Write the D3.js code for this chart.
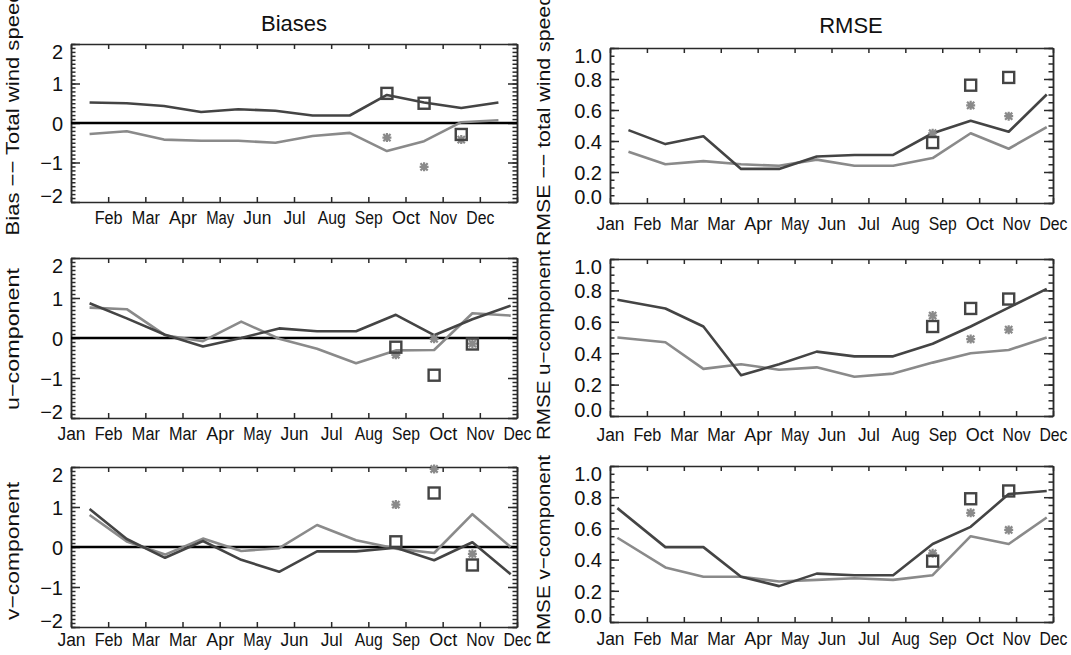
<!DOCTYPE html>
<html>
<head>
<meta charset="utf-8">
<script src="https://cdn.jsdelivr.net/npm/d3@7"></script>
<style>
  body { margin: 0; background: #fff; }
  svg text { font-family: "Liberation Sans", Arial, sans-serif; fill: #111; }
</style>
</head>
<body>
<svg width="1071" height="655"></svg>
<script>
// month tick labels (13 ticks, the original repeats "Mar")
const monthTicks = ["Jan", "Feb", "Mar", "Mar", "Apr", "May", "Jun", "Jul", "Aug", "Sep", "Oct", "Nov", "Dec"];
const monthTicksTop = ["", "Feb", "Mar", "Apr", "May", "Jun", "Jul", "Aug", "Sep", "Oct", "Nov", "Dec", ""];

// x position of each monthly value, in tick units
const xBiasTotal = [0.5, 1.5, 2.5, 3.5, 4.5, 5.5, 6.5, 7.5, 8.5, 9.5, 10.5, 11.5];
const xMonthly = [0.5, 1.5, 2.53, 3.55, 4.58, 5.6, 6.62, 7.67, 8.74, 9.77, 10.8, 11.83];
const xMonthlyRmse = [0.2, 1.5, 2.53, 3.55, 4.58, 5.6, 6.62, 7.67, 8.74, 9.77, 10.8, 11.83];
const markerIdx = [8, 9, 10]; // Sep, Oct, Nov

// Biases -- total wind speed
const biasTotalDark = [0.52, 0.50, 0.43, 0.28, 0.35, 0.31, 0.19, 0.19, 0.71, 0.52, 0.38, 0.52];
const biasTotalLight = [-0.28, -0.21, -0.42, -0.45, -0.45, -0.50, -0.33, -0.25, -0.71, -0.46, 0.02, 0.07];
const biasTotalSquares = [0.75, 0.50, -0.29];
const biasTotalStars = [-0.37, -1.11, -0.42];

// Biases -- u component
const biasUDark = [0.87, 0.49, 0.08, -0.21, 0.00, 0.24, 0.17, 0.17, 0.58, 0.07, 0.47, 0.81];
const biasULight = [0.76, 0.72, 0.07, -0.08, 0.41, -0.02, -0.27, -0.63, -0.31, -0.30, 0.62, 0.56];
const biasUSquares = [-0.23, -0.93, -0.15];
const biasUStars = [-0.42, -0.02, -0.14];

// Biases -- v component
const biasVDark = [0.95, 0.20, -0.27, 0.15, -0.32, -0.62, -0.11, -0.11, -0.02, -0.33, 0.12, -0.68];
const biasVLight = [0.80, 0.14, -0.19, 0.21, -0.10, -0.03, 0.55, 0.17, -0.04, -0.15, 0.82, 0.00];
const biasVSquares = [0.13, 1.35, -0.45];
const biasVStars = [1.06, 1.95, -0.17];

// RMSE -- total wind speed
const rmseTotalDark = [0.47, 0.38, 0.43, 0.22, 0.22, 0.30, 0.31, 0.31, 0.45, 0.53, 0.46, 0.70];
const rmseTotalLight = [0.33, 0.25, 0.27, 0.25, 0.24, 0.28, 0.24, 0.24, 0.29, 0.45, 0.35, 0.49];
const rmseTotalSquares = [0.39, 0.76, 0.81];
const rmseTotalStars = [0.45, 0.63, 0.56];

// RMSE -- u component
const rmseUDark = [0.74, 0.685, 0.57, 0.26, 0.33, 0.41, 0.38, 0.38, 0.46, 0.57, 0.69, 0.81];
const rmseULight = [0.50, 0.47, 0.30, 0.33, 0.295, 0.31, 0.25, 0.27, 0.34, 0.40, 0.42, 0.50];
const rmseUSquares = [0.57, 0.685, 0.745];
const rmseUStars = [0.64, 0.49, 0.55];

// RMSE -- v component
const rmseVDark = [0.73, 0.48, 0.48, 0.29, 0.23, 0.31, 0.30, 0.30, 0.50, 0.61, 0.82, 0.84];
const rmseVLight = [0.54, 0.35, 0.29, 0.29, 0.26, 0.27, 0.28, 0.27, 0.30, 0.55, 0.50, 0.67];
const rmseVSquares = [0.39, 0.79, 0.84];
const rmseVStars = [0.44, 0.70, 0.59];

const biasTicks = [-2, -1, 0, 1, 2];
const rmseTicks = [0, 0.2, 0.4, 0.6, 0.8, 1.0];

const DARK = "#444444";
const LIGHT = "#8a8a8a";
const AXIS = "#2a2a2a";
const DASH = "\u2212";

const svg = d3.select("svg");

const LEFT = [71, 517];
const RIGHT = [610, 1053];

const panels = [
  { xr: LEFT, top: 44, bottom: 202, xs: xBiasTotal, dark: biasTotalDark, light: biasTotalLight,
    squares: biasTotalSquares, stars: biasTotalStars, bias: true, labels: monthTicksTop, labelY: 9,
    title: `Bias  ${DASH}${DASH}  Total  wind  speed`, titleX: 19, titleY: 113, titleLen: 245 },
  { xr: LEFT, top: 258, bottom: 418, xs: xMonthly, dark: biasUDark, light: biasULight,
    squares: biasUSquares, stars: biasUStars, bias: true, labels: monthTicks, labelY: 9,
    title: `u${DASH}component`, titleX: 19, titleY: 339, titleLen: 142 },
  { xr: LEFT, top: 467, bottom: 627, xs: xMonthly, dark: biasVDark, light: biasVLight,
    squares: biasVSquares, stars: biasVStars, bias: true, labels: monthTicks, labelY: 6,
    title: `v${DASH}component`, titleX: 19, titleY: 551, titleLen: 138 },
  { xr: RIGHT, top: 48, bottom: 203, xs: xMonthly, dark: rmseTotalDark, light: rmseTotalLight,
    squares: rmseTotalSquares, stars: rmseTotalStars, bias: false, labels: monthTicks, labelY: 14,
    title: `RMSE  ${DASH}${DASH}  total  wind  speed`, titleX: 550, titleY: 120, titleLen: 252 },
  { xr: RIGHT, top: 259, bottom: 416, xs: xMonthlyRmse, dark: rmseUDark, light: rmseULight,
    squares: rmseUSquares, stars: rmseUStars, bias: false, labels: monthTicks, labelY: 12,
    title: `RMSE  u${DASH}component`, titleX: 550, titleY: 345, titleLen: 190 },
  { xr: RIGHT, top: 466, bottom: 622, xs: xMonthlyRmse, dark: rmseVDark, light: rmseVLight,
    squares: rmseVSquares, stars: rmseVStars, bias: false, labels: monthTicks, labelY: 10,
    title: `RMSE  v${DASH}component`, titleX: 550, titleY: 550, titleLen: 190 }
];

panels.forEach(drawPanel);

// column titles
svg.append("text").attr("x", 294).attr("y", 31).attr("text-anchor", "middle")
  .attr("font-size", 22).text("Biases");
svg.append("text").attr("x", 851).attr("y", 33).attr("text-anchor", "middle")
  .attr("font-size", 22).text("RMSE");

function drawPanel(p) {
  const x = d3.scaleLinear().domain([0, 12]).range(p.xr);
  const y = d3.scaleLinear()
    .domain(p.bias ? [-2, 2] : [0, 1])
    .range([p.bottom, p.top]);
  const majors = p.bias ? biasTicks : rmseTicks;
  const minors = p.bias ? d3.range(-20, 21).map((k) => k / 10) : d3.range(0, 21).map((k) => k / 20);
  const g = svg.append("g");

  const styleAxis = (sel) => {
    sel.attr("color", AXIS).attr("font-size", null).attr("font-family", null);
    sel.selectAll("path, line").attr("stroke-width", 1.5);
  };

  // x axes (ticks inward, top and bottom)
  g.append("g")
    .attr("transform", `translate(0,${p.bottom})`)
    .call(d3.axisBottom(x).tickValues(d3.range(13)).tickSizeInner(-5).tickSizeOuter(0)
      .tickPadding(p.labelY).tickFormat((i) => p.labels[i]))
    .call(styleAxis)
    .call((a) => a.selectAll("text").attr("font-size", 18).attr("fill", "#111")
      .attr("textLength", (i) => (p.labels[i] === "Jul" ? 22 : p.labels[i] ? 28 : null))
      .attr("lengthAdjust", "spacingAndGlyphs"));
  g.append("g")
    .attr("transform", `translate(0,${p.top})`)
    .call(d3.axisTop(x).tickValues(d3.range(13)).tickSizeInner(-5).tickSizeOuter(0).tickFormat(""))
    .call(styleAxis);

  // y axes: minor + major ticks on both sides
  [[d3.axisLeft, p.xr[0]], [d3.axisRight, p.xr[1]]].forEach(([axisFn, xp], side) => {
    g.append("g")
      .attr("transform", `translate(${xp},0)`)
      .call(axisFn(y).tickValues(minors).tickSizeInner(-4.5).tickSizeOuter(0).tickFormat(""))
      .call(styleAxis);
    const ax = g.append("g")
      .attr("transform", `translate(${xp},0)`)
      .call(axisFn(y).tickValues(majors).tickSizeInner(-9).tickSizeOuter(0)
        .tickPadding(8).tickFormat(side === 0 ? (d) => (p.bias ? d3.format("d")(d).replace("-", DASH) : d3.format(".1f")(d)) : ""))
      .call(styleAxis);
    if (side === 0) {
      const lo = majors[0], hi = majors[majors.length - 1];
      ax.selectAll("text")
        .attr("font-size", 20)
        .attr("fill", "#111")
        .attr("dy", (d) => (d === hi ? "0.72em" : d === lo ? "0em" : "0.36em"));
    }
  });

  // zero line in the bias panels
  if (p.bias) {
    g.append("line")
      .attr("x1", p.xr[0]).attr("x2", p.xr[1])
      .attr("y1", y(0)).attr("y2", y(0))
      .attr("stroke", "#000").attr("stroke-width", 2.6);
  }

  const line = d3.line().x((d, i) => x(p.xs[i])).y((d) => y(d));
  g.append("path").datum(p.light).attr("d", line)
    .attr("fill", "none").attr("stroke", LIGHT).attr("stroke-width", 2.6).attr("stroke-linejoin", "round");
  g.append("path").datum(p.dark).attr("d", line)
    .attr("fill", "none").attr("stroke", DARK).attr("stroke-width", 2.6).attr("stroke-linejoin", "round");

  // asterisks
  const s = 4.5;
  g.selectAll(".star").data(p.stars).enter().append("path")
    .attr("transform", (d, i) => `translate(${x(p.xs[markerIdx[i]])},${y(d)})`)
    .attr("d", `M${-s},0H${s}M0,${-s}V${s}M${-s * 0.8},${-s * 0.8}L${s * 0.8},${s * 0.8}M${-s * 0.8},${s * 0.8}L${s * 0.8},${-s * 0.8}`)
    .attr("stroke", LIGHT).attr("stroke-width", 2.2).attr("fill", "none");

  // squares
  g.selectAll(".sq").data(p.squares).enter().append("rect")
    .attr("x", (d, i) => x(p.xs[markerIdx[i]]) - 5.5)
    .attr("y", (d) => y(d) - 5.5)
    .attr("width", 11).attr("height", 11)
    .attr("fill", "none").attr("stroke", DARK).attr("stroke-width", 2.4);

  // rotated y title
  g.append("text")
    .attr("transform", `translate(${p.titleX},${p.titleY}) rotate(-90)`)
    .attr("text-anchor", "middle")
    .attr("font-size", 19)
    .attr("textLength", p.titleLen)
    .attr("lengthAdjust", "spacingAndGlyphs")
    .text(p.title);
}
</script>
</body>
</html>
